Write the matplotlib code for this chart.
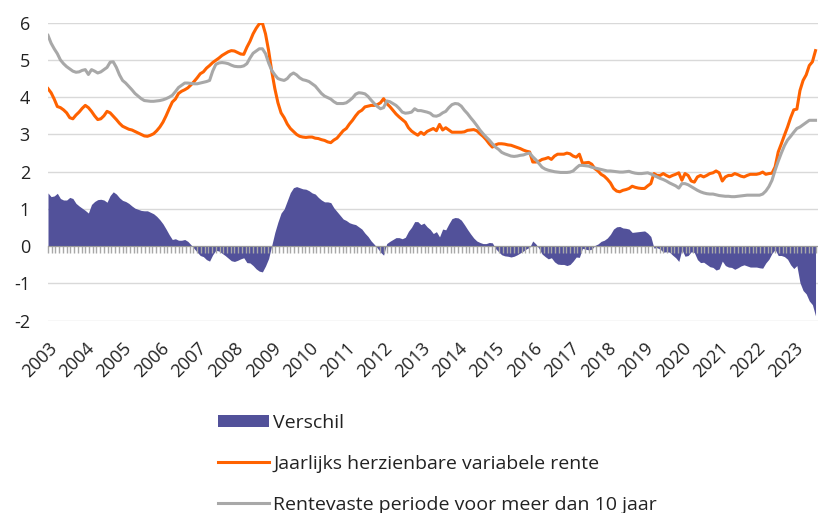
import matplotlib.pyplot as plt
import numpy as np

plt.rcParams['font.family'] = ['Open Sans', 'DejaVu Sans']
plt.rcParams['axes.unicode_minus'] = False

# maandwaarden jan 2003 t/m aug 2023 (%)
start_jaar = 2003
variabel = [
    4.23, 4.12, 3.95, 3.75, 3.72, 3.66, 3.58, 3.45, 3.42, 3.52, 3.60, 3.70,  # 2003
    3.78, 3.72, 3.62, 3.50, 3.40, 3.42, 3.50, 3.62, 3.58, 3.49, 3.40, 3.30,  # 2004
    3.22, 3.18, 3.14, 3.12, 3.08, 3.04, 3.00, 2.96, 2.95, 2.98, 3.02, 3.10,  # 2005
    3.20, 3.33, 3.50, 3.69, 3.87, 3.95, 4.10, 4.16, 4.20, 4.25, 4.33, 4.42,  # 2006
    4.52, 4.63, 4.68, 4.78, 4.85, 4.93, 4.99, 5.05, 5.12, 5.17, 5.22, 5.25,  # 2007
    5.24, 5.20, 5.16, 5.15, 5.34, 5.50, 5.70, 5.85, 5.97, 5.99, 5.70, 5.25,  # 2008
    4.70, 4.23, 3.85, 3.58, 3.45, 3.28, 3.16, 3.08, 3.00, 2.95, 2.93, 2.92,  # 2009
    2.93, 2.93, 2.90, 2.89, 2.86, 2.84, 2.80, 2.78, 2.85, 2.90, 3.00, 3.10,  # 2010
    3.16, 3.28, 3.38, 3.50, 3.60, 3.65, 3.74, 3.76, 3.78, 3.78, 3.80, 3.85,  # 2011
    3.96, 3.83, 3.75, 3.65, 3.55, 3.47, 3.40, 3.33, 3.18, 3.09, 3.03, 2.98,  # 2012
    3.06, 3.00, 3.08, 3.12, 3.16, 3.10, 3.27, 3.12, 3.18, 3.12, 3.06, 3.06,  # 2013
    3.06, 3.06, 3.07, 3.11, 3.12, 3.13, 3.10, 3.02, 2.95, 2.86, 2.75, 2.66,  # 2014
    2.72, 2.75, 2.75, 2.74, 2.72, 2.71, 2.68, 2.65, 2.62, 2.58, 2.55, 2.53,  # 2015
    2.26, 2.26, 2.28, 2.33, 2.35, 2.38, 2.33, 2.42, 2.47, 2.47, 2.47, 2.50,  # 2016
    2.48, 2.42, 2.39, 2.47, 2.23, 2.24, 2.25, 2.20, 2.08, 2.02, 1.93, 1.88,  # 2017
    1.80, 1.70, 1.55, 1.48, 1.46, 1.50, 1.52, 1.55, 1.61, 1.58, 1.56, 1.55,  # 2018
    1.55, 1.62, 1.68, 1.95, 1.90, 1.90, 1.95, 1.90, 1.86, 1.90, 1.93, 1.97,  # 2019
    1.77, 1.95, 1.90, 1.75, 1.72, 1.86, 1.90, 1.86, 1.90, 1.95, 1.97, 2.02,  # 2020
    1.97, 1.75, 1.86, 1.90, 1.90, 1.95, 1.92, 1.88, 1.86, 1.90, 1.93, 1.93,  # 2021
    1.93, 1.95, 1.99, 1.93, 1.95, 1.96, 2.13, 2.53, 2.75, 2.98, 3.20, 3.45,  # 2022
    3.66, 3.68, 4.18, 4.45, 4.60, 4.85, 4.95, 5.25,                          # 2023
]
vast_10 = [
    5.66, 5.45, 5.30, 5.17, 5.00, 4.90, 4.82, 4.76, 4.70, 4.67, 4.68, 4.72,  # 2003
    4.74, 4.61, 4.74, 4.70, 4.65, 4.68, 4.74, 4.80, 4.94, 4.95, 4.80, 4.60,  # 2004
    4.45, 4.38, 4.29, 4.20, 4.10, 4.03, 3.96, 3.91, 3.90, 3.89, 3.89, 3.90,  # 2005
    3.91, 3.93, 3.96, 4.00, 4.05, 4.15, 4.26, 4.32, 4.38, 4.38, 4.37, 4.36,  # 2006
    4.36, 4.38, 4.40, 4.42, 4.45, 4.70, 4.88, 4.92, 4.93, 4.92, 4.90, 4.86,  # 2007
    4.83, 4.82, 4.82, 4.84, 4.90, 5.05, 5.18, 5.24, 5.30, 5.30, 5.17, 4.92,  # 2008
    4.72, 4.60, 4.50, 4.47, 4.45, 4.50, 4.60, 4.65, 4.60, 4.52, 4.47, 4.45,  # 2009
    4.42, 4.36, 4.30, 4.20, 4.10, 4.03, 3.99, 3.95, 3.88, 3.83, 3.83, 3.83,  # 2010
    3.85, 3.91, 3.98, 4.08, 4.12, 4.11, 4.09, 4.02, 3.92, 3.83, 3.75, 3.69,  # 2011
    3.72, 3.90, 3.88, 3.83, 3.78, 3.70, 3.60, 3.57, 3.58, 3.60, 3.69, 3.64,  # 2012
    3.64, 3.62, 3.60, 3.57, 3.50, 3.49, 3.52, 3.58, 3.62, 3.72, 3.80, 3.83,  # 2013
    3.82, 3.76, 3.65, 3.56, 3.45, 3.35, 3.24, 3.12, 3.02, 2.93, 2.85, 2.75,  # 2014
    2.66, 2.60, 2.52, 2.48, 2.45, 2.42, 2.41, 2.42, 2.44, 2.45, 2.48, 2.50,  # 2015
    2.40, 2.32, 2.22, 2.12, 2.07, 2.04, 2.02, 2.00, 1.99, 1.98, 1.98, 1.98,  # 2016
    1.99, 2.02, 2.10, 2.17, 2.17, 2.16, 2.15, 2.12, 2.10, 2.08, 2.06, 2.04,  # 2017
    2.02, 2.02, 2.01, 2.00, 1.99, 1.99, 2.00, 2.01, 1.98, 1.96, 1.95, 1.95,  # 2018
    1.96, 1.97, 1.94, 1.90, 1.86, 1.82, 1.79, 1.75, 1.70, 1.66, 1.62, 1.56,  # 2019
    1.68, 1.68, 1.65, 1.60, 1.55, 1.50, 1.46, 1.43, 1.41, 1.40, 1.40, 1.38,  # 2020
    1.36, 1.35, 1.34, 1.34, 1.33, 1.33, 1.34, 1.35, 1.36, 1.37, 1.37, 1.37,  # 2021
    1.37, 1.37, 1.40, 1.48, 1.60, 1.77, 2.04, 2.28, 2.50, 2.70, 2.85, 2.95,  # 2022
    3.06, 3.16, 3.20, 3.26, 3.32, 3.38, 3.38, 3.38,                          # 2023
]
jaren = list(range(2003, 2024))

variabel = np.array(variabel)
vast_10 = np.array(vast_10)
verschil = vast_10 - variabel
t = start_jaar + np.arange(len(variabel)) / 12

ORANJE = '#FF6200'
GRIJS = '#A8A8A8'
PAARS = '#52519A'

fig = plt.figure(figsize=(8.18, 5.13), dpi=100)
ax = fig.add_axes([48 / 818, (513 - 320.7) / 513, 770 / 818, 298 / 513])

ax.fill_between(t, verschil, 0, color=PAARS, linewidth=0, label='Verschil', zorder=2)
ax.plot(t, variabel, color=ORANJE, lw=2.2, label='Jaarlijks herzienbare variabele rente', zorder=3)
ax.plot(t, vast_10, color=GRIJS, lw=2.2, label='Rentevaste periode voor meer dan 10 jaar', zorder=3)

ax.set_xlim(2003, 2023.65)
ax.set_ylim(-2, 6)
ax.set_yticks(range(-2, 7))
ax.grid(axis='y', color='#D9D9D9', lw=1)
ax.set_axisbelow(True)
for s in ax.spines.values():
    s.set_visible(False)
ax.tick_params(axis='y', length=0, pad=13, labelsize=13, labelcolor='#222222')

ax.set_xticks(jaren)
ax.set_xticklabels([str(j) for j in jaren], rotation=45, ha='right',
                   rotation_mode='anchor', fontsize=13, color='#222222')
ax.tick_params(axis='x', length=0, pad=13.5)

# nullijn met streepjes
nul = ax.secondary_xaxis(0.25)
nul.spines['bottom'].set_color('#9A9A9A')
nul.set_xticks(np.arange(2003, 2023.65, 0.1))
nul.tick_params(axis='x', length=5, width=1, color='#A8A8A8', labelbottom=False)
nul.set_zorder(4)

leg = fig.legend(loc='upper left', bbox_to_anchor=(218 / 818, (513 - 414) / 513),
                 frameon=False, fontsize=14, handlelength=2.6, handleheight=0.55,
                 handletextpad=0.25, labelspacing=1.17, borderpad=0, borderaxespad=0)
for txt in leg.get_texts():
    txt.set_color('#222222')

fig.savefig('out.png', dpi=100)
